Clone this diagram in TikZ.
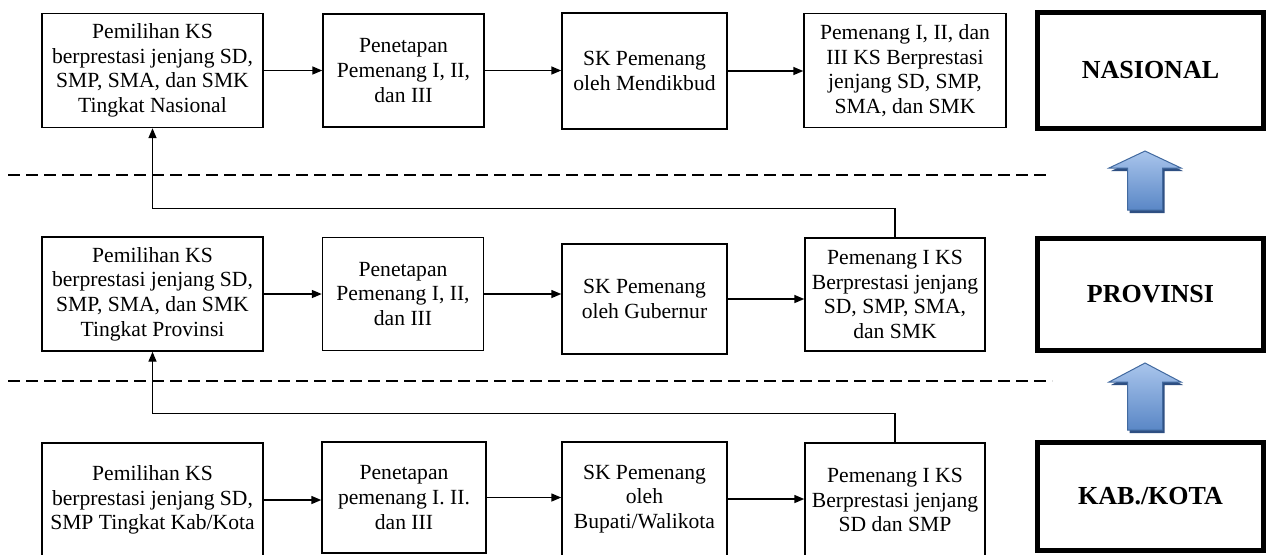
\documentclass[tikz,border=0pt]{standalone}
\usepackage{fontspec}
\setmainfont{Liberation Serif}
\usetikzlibrary{arrows.meta}
\definecolor{arrowtop}{HTML}{A9C5EC}
\definecolor{arrowbottom}{HTML}{5A87C6}
\definecolor{arrowedge}{HTML}{41699F}
\definecolor{arrowshade}{HTML}{2E4F82}
\newcommand*\levelarrow[4]{%
    % #1 = x of the shaft, #2 = tip, #3 = head base, #4 = foot
    \begin{scope}[shift={(2,3)}]%
        \fill[arrowshade] (#1,#2) -- (#1+36,#3) -- (#1+17.5,#3) -- (#1+17.5,#4)
            -- (#1-17.5,#4) -- (#1-17.5,#3) -- (#1-36,#3) -- cycle;%
    \end{scope}%
    \draw[arrow body] (#1,#2) -- (#1+36,#3) -- (#1+17.5,#3) -- (#1+17.5,#4)
        -- (#1-17.5,#4) -- (#1-17.5,#3) -- (#1-36,#3) -- cycle%
}
\begin{document}
\begin{tikzpicture}
    [%
        x=0.5pt,y=-0.5pt,%
        stage/.style={%
            draw,%
            line width=0.7pt,%
            align=center,%
            inner sep=2pt,%
            font=\fontsize{10.8}{12.3}\selectfont%
        },%
        wide stage/.style={stage,minimum width=110.5pt,minimum height=57pt},%
        mid stage/.style={stage,minimum width=80.5pt,minimum height=56.5pt},%
        sk stage/.style={stage,minimum width=82.5pt,minimum height=57pt},%
        level/.style={%
            draw,%
            line width=2.5pt,%
            minimum width=113pt,%
            font=\fontsize{13}{15}\selectfont\bfseries%
        },%
        flow/.style={%
            -{Triangle[length=5pt,width=4pt]},%
            line width=0.7pt%
        },%
        divider/.style={%
            line width=1pt,%
            dash pattern=on 6pt off 3pt%
        },%
        arrow body/.style={%
            draw=arrowedge,%
            line width=0.5pt,%
            top color=arrowtop,%
            bottom color=arrowbottom%
        }%
    ]%
    \useasboundingbox (0,0) rectangle (1273,554);
%
    % nasional
    \node[wide stage] (nas-pilih) at (152.5,70.5)
        {Pemilihan KS\\berprestasi jenjang SD,\\SMP, SMA, dan SMK\\Tingkat Nasional};
    \node[mid stage] (nas-tetap) at (403.5,70.5) {Penetapan\\Pemenang I, II,\\dan III};
    \node[sk stage,minimum height=58pt] (nas-sk) at (644.5,71) {SK Pemenang\\oleh Mendikbud};
    \node[stage,minimum width=101pt,minimum height=57pt] (nas-menang) at (905,70.5)
        {Pemenang I, II, dan\\III KS Berprestasi\\jenjang SD, SMP,\\SMA, dan SMK};
    \node[level,minimum height=58pt] (nasional) at (1150.5,70.5) {NASIONAL};
%
    % provinsi
    \node[wide stage] (prov-pilih) at (152.5,294)
        {Pemilihan KS\\berprestasi jenjang SD,\\SMP, SMA, dan SMK\\Tingkat Provinsi};
    \node[mid stage] (prov-tetap) at (403,294) {Penetapan\\Pemenang I, II,\\dan III};
    \node[sk stage,minimum height=55pt] (prov-sk) at (644.5,299) {SK Pemenang\\oleh Gubernur};
    \node[stage,minimum width=90pt,minimum height=56.5pt] (prov-menang) at (895,294.5)
        {Pemenang I KS\\Berprestasi jenjang\\SD, SMP, SMA,\\dan SMK};
    \node[level,minimum height=56pt] (provinsi) at (1150.5,294.5) {PROVINSI};
%
    % kab./kota
    \node[wide stage] (kab-pilih) at (152.5,500)
        {Pemilihan KS\\berprestasi jenjang SD,\\SMP Tingkat Kab/Kota};
    \node[mid stage,minimum width=82pt,minimum height=55.5pt] (kab-tetap) at (404,497.5)
        {Penetapan\\pemenang I. II.\\dan III};
    \node[sk stage] (kab-sk) at (644.5,499) {SK Pemenang\\oleh\\Bupati/Walikota};
    \node[stage,minimum width=90pt,minimum height=57pt] (kab-menang) at (895,500)
        {Pemenang I KS\\Berprestasi jenjang\\SD dan SMP};
    \node[level,minimum height=54pt] (kabkota) at (1150.5,496.5) {KAB./KOTA};
%
    \foreach \r in {nas,prov,kab} {
        \draw[flow] (\r-pilih.east) -- (\r-pilih.east -| \r-tetap.west);
        \draw[flow] (\r-tetap.east) -- (\r-tetap.east -| \r-sk.west);
        \draw[flow] (\r-sk.east) -- (\r-sk.east -| \r-menang.west);
    }
    \draw[flow] (prov-menang.north) -- ++(0,-29) -| (nas-pilih.south);
    \draw[flow] (kab-menang.north) -- ++(0,-29) -| (prov-pilih.south);
%
    \draw[divider] (8,175) -- (1046,175);
    \draw[divider] (8,381) -- (1052,381);
%
    \levelarrow{1145}{151}{168}{210};
    \levelarrow{1145}{363}{382}{430};
\end{tikzpicture}
\end{document}
